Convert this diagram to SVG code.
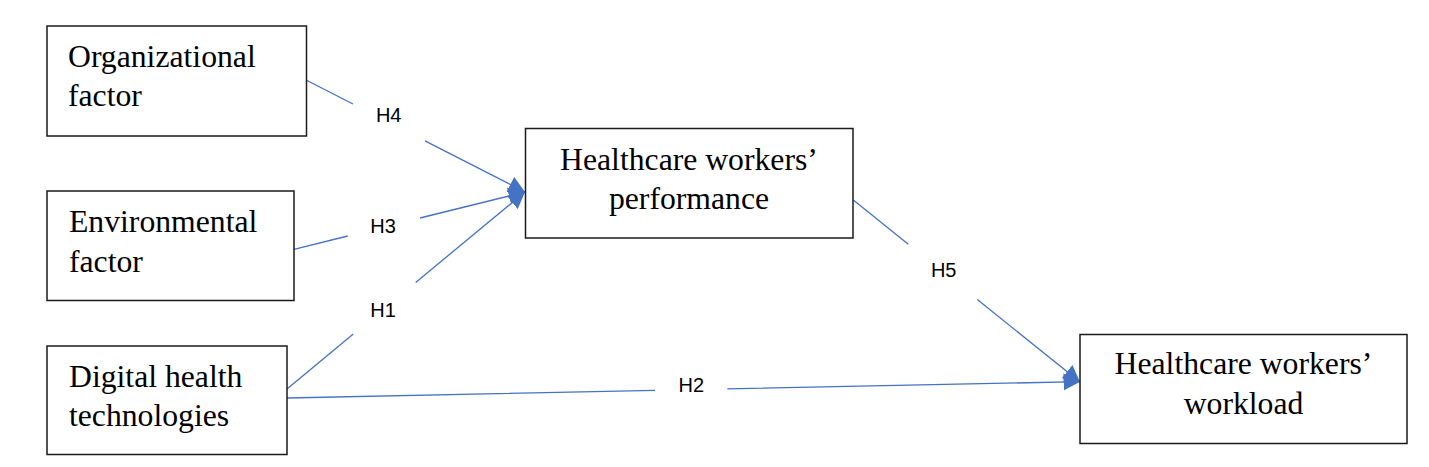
<svg xmlns="http://www.w3.org/2000/svg" width="1429" height="467" viewBox="0 0 1429 467">
<style>
.box{fill:#fff;stroke:#1a1a1a;stroke-width:1.5}
.t{font-family:"Liberation Serif","Times New Roman",serif;font-size:31.7px;fill:#000}
.c{text-anchor:middle}
.lbl{font-family:"Liberation Sans",Arial,sans-serif;font-size:20px;fill:#000;text-anchor:middle}
.ln{fill:none;stroke:#4472C4;stroke-width:1.3}
</style>
<defs>
<marker id="ah" markerUnits="userSpaceOnUse" markerWidth="18" markerHeight="18" viewBox="0 0 18 18" refX="16.5" refY="9" orient="auto">
<path d="M0,0.5 L16.5,9 L0,17.5 Z" fill="#4472C4"/>
</marker>
</defs>
<rect width="1429" height="467" fill="#fff"/>
<g id="connectors">
<path class="ln" d="M306,80 L353,104 M425,140.9 L525,192" marker-end="url(#ah)"/>
<path class="ln" d="M294,249.3 L347.7,236 M420,218 L525,192" marker-end="url(#ah)"/>
<path class="ln" d="M287,389 L353.3,334.1 M415.7,282.4 L525,192" marker-end="url(#ah)"/>
<path class="ln" d="M853.3,200 L908.3,244.2 M977.3,299.6 L1080,382" marker-end="url(#ah)"/>
<path class="ln" d="M287,398 L655,390.4 M727.3,388.9 L1080,381.7" marker-end="url(#ah)"/>
<text class="lbl" x="388.7" y="121.7">H4</text>
<text class="lbl" x="383" y="233.3">H3</text>
<text class="lbl" x="383" y="316.7">H1</text>
<text class="lbl" x="943.7" y="276.7">H5</text>
<text class="lbl" x="691.3" y="391.7">H2</text>
</g>
<g id="organizational">
<rect class="box" x="47" y="26" width="259.5" height="110"/>
<text class="t" x="68" y="67">Organizational</text>
<text class="t" x="68" y="106">factor</text>
</g>
<g id="environmental">
<rect class="box" x="47" y="191" width="247" height="109.5"/>
<text class="t" x="69" y="231.5">Environmental</text>
<text class="t" x="69" y="271.5">factor</text>
</g>
<g id="digital">
<rect class="box" x="47" y="346" width="240" height="108.5"/>
<text class="t" x="69" y="386.5">Digital health</text>
<text class="t" x="69" y="425.5">technologies</text>
</g>
<g id="performance">
<rect class="box" x="525.5" y="128.5" width="327.5" height="109.5"/>
<text class="t c" x="689" y="170">Healthcare workers’</text>
<text class="t c" x="689" y="208.5">performance</text>
</g>
<g id="workload">
<rect class="box" x="1080" y="334.5" width="327" height="109"/>
<text class="t c" x="1243.5" y="374">Healthcare workers’</text>
<text class="t c" x="1243.5" y="414">workload</text>
</g>
</svg>
